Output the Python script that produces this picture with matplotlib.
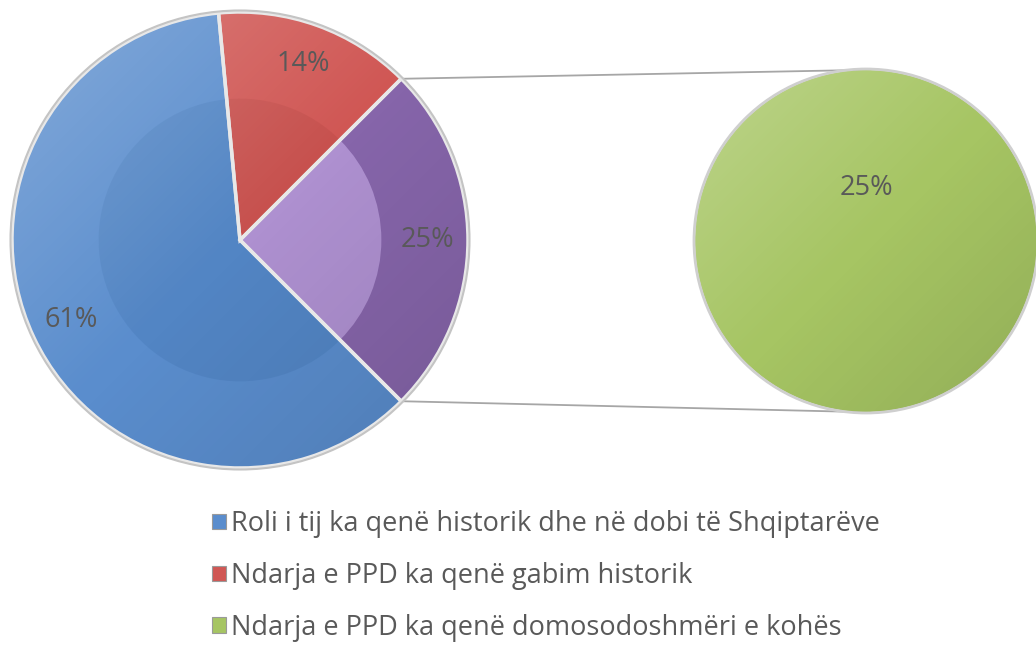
"""Bar-of-pie style chart: main pie with the secondary slice exploded to a circle."""

import matplotlib

matplotlib.use("Agg")
import matplotlib.pyplot as plt  # noqa: E402
import numpy as np  # noqa: E402
from matplotlib.patches import Circle, Patch  # noqa: E402

# --- data -----------------------------------------------------------------
labels = [
    "Roli i tij ka qenë historik dhe në dobi të Shqiptarëve",
    "Ndarja e PPD ka qenë gabim historik",
    "Ndarja e PPD ka qenë domosodoshmëri e kohës",
]
values = [61, 14, 25]
main_colors = ["#5a8dcd", "#d05754", "#8665aa"]  # last one = "other" slice
second_color = "#a6c563"
legend_colors = ["#5a8dcd", "#d05754", "#a6c563"]

W, H = 1036, 649
TEXT = "#595959"
FONT = ["Open Sans", "DejaVu Sans"]
LABEL_SIZE = 19.5

plt.rcParams["font.family"] = FONT

fig = plt.figure(figsize=(W / 100, H / 100), dpi=100)
ax = fig.add_axes([0, 0, 1, 1])


def shade(center, radius):
    """Soft light-from-top-left gradient clipped to a circle."""
    n = 200
    yy, xx = np.mgrid[1:-1:n * 1j, -1:1:n * 1j]
    t = (xx - yy) / 2.0  # -1 at top-left, +1 at bottom-right
    rgba = np.zeros((n, n, 4))
    light = np.clip(-t, 0, 1)
    dark = np.clip(t, 0, 1)
    rgba[..., :3] = np.where(light[..., None] > 0, 1.0, 0.0)
    rgba[..., 3] = 0.26 * light + 0.12 * dark
    im = ax.imshow(
        rgba,
        extent=(center[0] - radius, center[0] + radius,
                center[1] - radius, center[1] + radius),
        zorder=3,
        interpolation="bilinear",
    )
    im.set_clip_path(Circle(center, radius, transform=ax.transData))


# main pie: first two categories + "other" (= the third category)
c1, r1 = (240, H - 240), 228
c2, r2 = (866, H - 241), 171

wedges, _, autotexts = ax.pie(
    values,
    colors=main_colors,
    startangle=-45,
    counterclock=False,
    center=c1,
    radius=r1,
    autopct=lambda p: f"{p:.0f}%",
    pctdistance=0.82,
    wedgeprops=dict(edgecolor="none"),
    textprops=dict(color=TEXT, fontsize=LABEL_SIZE),
    frame=True,
)

# inner "bevel" facets
inner_colors = ["#3f72b0", "#b84643", "#c9aeea"]
inner_alpha = [0.28, 0.35, 0.6]
inner, _ = ax.pie(
    values,
    colors=inner_colors,
    startangle=-45,
    counterclock=False,
    center=c1,
    radius=r1 * 0.62,
    wedgeprops=dict(edgecolor="none"),
    frame=True,
)
for w, a in zip(inner, inner_alpha):
    w.set_alpha(a)
    w.set_zorder(2)
shade(c1, r1)

outline, _ = ax.pie(
    values,
    colors=["none"] * len(values),
    startangle=-45,
    counterclock=False,
    center=c1,
    radius=r1,
    wedgeprops=dict(edgecolor="#e8e8e8", linewidth=2.5),
    frame=True,
)
for w in outline:
    w.set_zorder(4)
ax.add_patch(Circle(c1, r1 + 1.5, fill=False, ec="#c4c4c4", lw=1.5, zorder=4))
for t in autotexts:
    t.set_zorder(10)

# secondary pie: the whole "other" slice
sec, sec_texts = ax.pie(
    [values[2]],
    colors=[second_color],
    startangle=-90,
    center=c2,
    radius=r2,
    labels=[f"{values[2]}%"],
    labeldistance=0.31,
    wedgeprops=dict(edgecolor="none"),
    textprops=dict(color=TEXT, fontsize=LABEL_SIZE, ha="center", va="center"),
    frame=True,
)
shade(c2, r2)
ax.add_patch(Circle(c2, r2 + 1, fill=False, ec="#cfcfcf", lw=2, zorder=4))
for t in sec_texts:
    t.set_zorder(10)

# connector lines from the "other" slice to the secondary pie
for ang in (45, -45):
    x0 = c1[0] + r1 * np.cos(np.radians(ang))
    y0 = c1[1] + r1 * np.sin(np.radians(ang))
    y1 = c2[1] + np.sign(ang) * r2
    ax.plot([x0, c2[0] - 6], [y0, y1], color="#a6a6a6", lw=1.3, zorder=0)

ax.set_xlim(0, W)
ax.set_ylim(0, H)
ax.set_aspect("equal")
ax.axis("off")

handles = [Patch(facecolor=c, edgecolor="#9a9a9a", linewidth=0.8) for c in legend_colors]
fig.legend(
    handles,
    labels,
    loc="upper left",
    bbox_to_anchor=(212 / W, 1 - 510 / H),
    frameon=False,
    fontsize=19.5,
    labelcolor=TEXT,
    handlelength=0.5,
    handleheight=0.5,
    handletextpad=0.2,
    labelspacing=0.88,
    borderaxespad=0,
    borderpad=0,
)

fig.savefig("out.png", dpi=100)
